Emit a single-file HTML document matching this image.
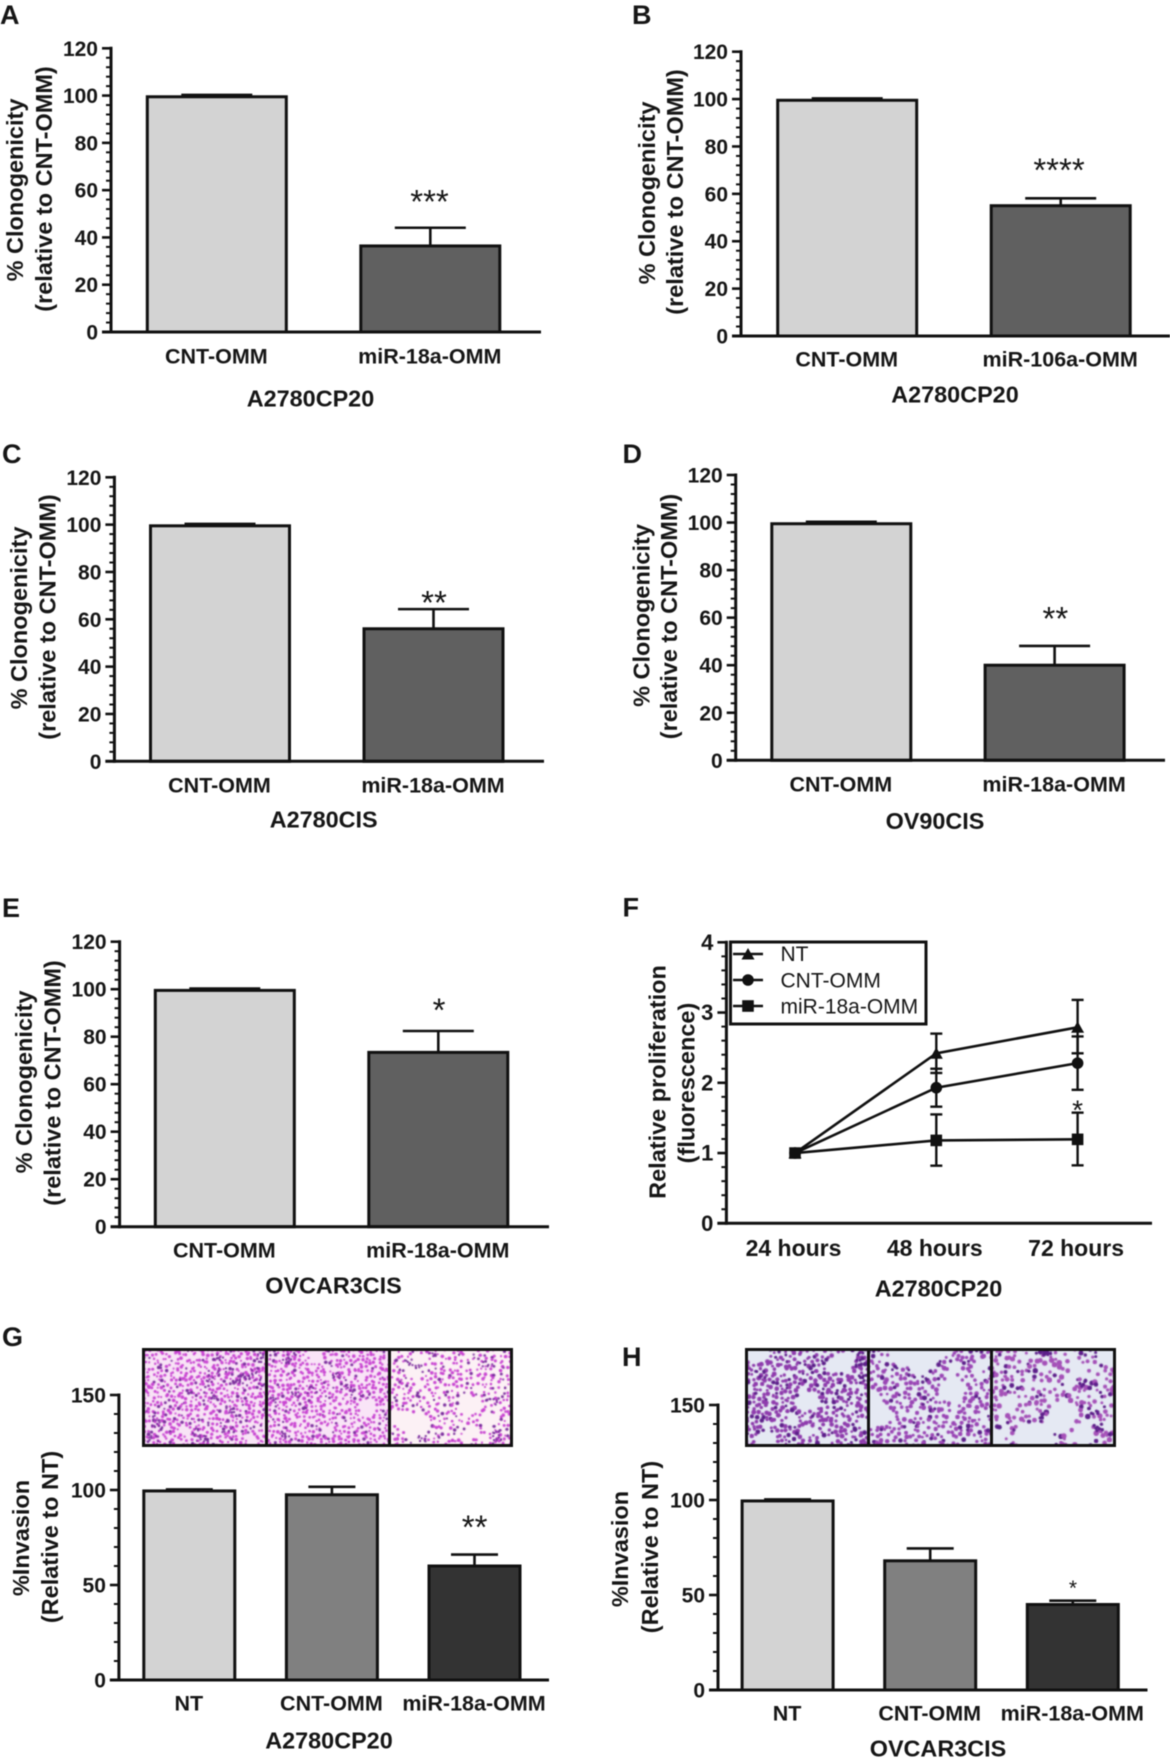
<!DOCTYPE html>
<html lang="en">
<head>
<meta charset="utf-8">
<title>Clonogenicity, proliferation and invasion panels</title>
<style>
html,body{margin:0;padding:0;background:#fff;}
#figure{position:relative;width:1170px;height:1760px;overflow:hidden;background:#fff;filter:blur(0.55px);}
#chart{position:absolute;left:0;top:0;}
#chart text{font-family:"Liberation Sans",Arial,sans-serif;fill:#161616;}
.micro{position:absolute;display:block;}
.frame{position:absolute;border:3px solid #111;box-sizing:border-box;}
.divider{position:absolute;background:#111;width:3px;}
</style>
</head>
<body>
<div id="figure">
<svg id="chart" width="1170" height="1760" viewBox="0 0 1170 1760" xmlns="http://www.w3.org/2000/svg"></svg>
</div>
<script>
// ---- chart data ----
const tickLabels120 = [0, 20, 40, 60, 80, 100, 120];
const tickLabels150 = [0, 50, 100, 150];
const tickLabelsF = [0, 1, 2, 3, 4];

const categoriesA = ['CNT-OMM', 'miR-18a-OMM'];
const valuesA = [99.5, 36.4];
const errorsA = [100.3, 44.1];

const categoriesB = ['CNT-OMM', 'miR-106a-OMM'];
const valuesB = [99.5, 55];
const errorsB = [100.3, 58.1];

const categoriesC = ['CNT-OMM', 'miR-18a-OMM'];
const valuesC = [99.5, 56];
const errorsC = [100.3, 64.3];

const categoriesD = ['CNT-OMM', 'miR-18a-OMM'];
const valuesD = [99.5, 40];
const errorsD = [100.3, 48.1];

const categoriesE = ['CNT-OMM', 'miR-18a-OMM'];
const valuesE = [99.5, 73.4];
const errorsE = [100.3, 82.4];

const categoriesG = ['NT', 'CNT-OMM', 'miR-18a-OMM'];
const valuesG = [99.5, 97.5, 60];
const errorsG = [100.3, 101.7, 66];

const categoriesH = ['NT', 'CNT-OMM', 'miR-18a-OMM'];
const valuesH = [99.5, 68, 45];
const errorsH = [100.3, 74.5, 47];

const categoriesF = ['24 hours', '48 hours', '72 hours'];
const seriesNT = [1, 2.42, 2.79];
const errLowNT = [1, 2.14, 2.42];
const errHighNT = [1, 2.70, 3.18];
const seriesCNT = [1, 1.93, 2.28];
const errLowCNT = [1, 1.66, 1.90];
const errHighCNT = [1, 2.20, 2.66];
const seriesMiR = [1, 1.18, 1.195];
const errLowMiR = [1, 0.82, 0.825];
const errHighMiR = [1, 1.55, 1.575];

// ---- helpers ----
const SVGNS = 'http://www.w3.org/2000/svg';
const svg = document.getElementById('chart');
const fig = document.getElementById('figure');
const INK = '#111';

function mk(tag, attrs, parent) {
  const el = document.createElementNS(SVGNS, tag);
  for (const k in attrs) el.setAttribute(k, attrs[k]);
  (parent || svg).appendChild(el);
  return el;
}
function txt(str, x, y, size, anchor, weight, parent, rot) {
  const el = mk('text', {x: x, y: y, 'font-size': size, 'text-anchor': anchor, 'font-weight': weight}, parent);
  if (rot) el.setAttribute('transform', 'rotate(-90 ' + x + ' ' + y + ')');
  el.textContent = str;
  return el;
}
function line(x1, y1, x2, y2, w, parent) {
  return mk('line', {x1: x1, y1: y1, x2: x2, y2: y2, stroke: INK, 'stroke-width': w}, parent);
}
function drawYAxis(g, p, ticks, minorPerMajor) {
  const yOf = v => p.y0 - v * (p.y0 - p.yTop) / p.yMax;
  const axis = line(p.axisX, yOf(p.yMax) - 1.5, p.axisX, p.y0 + 1.5, 3, g);
  
  
  ticks.forEach((t, i) => {
    const tick = line(p.axisX - 9, yOf(t), p.axisX, yOf(t), 2.6, g);
    
    
    const label = txt(String(t), p.axisX - 13, yOf(t) + 7.5, p.tickSize, 'end', 'bold', g);
    
    
    if (i < ticks.length - 1) {
      const step = (ticks[i + 1] - t) / minorPerMajor;
      for (let m = 1; m < minorPerMajor; m++) {
        const minor = line(p.axisX - 5, yOf(t + m * step), p.axisX, yOf(t + m * step), 2, g);
        
        
      }
    }
  });
  return yOf;
}
function drawCommonLabels(g, p) {
  const letter = txt(p.letter, p.letterX, p.letterY, 27, 'start', 'bold', g);
  
  
  p.titles.forEach(t => {
    const title = txt(t.text, t.x, t.y, p.titleSize || 23.5, 'middle', 'bold', g, true);
    
    
  });
  const group = txt(p.group, p.groupX, p.groupY, 23.4, 'middle', 'bold', g);
  
  
}
function drawStars(g, s) {
  const size = s.size || 33;
  const star = txt(s.text, s.x, s.y + 0.49 * size, size, 'middle', 'normal', g);
  
  
}
function drawBarPanel(p, cats, vals, errs, ticks) {
  const g = mk('g', {});
  
  
  drawCommonLabels(g, p);
  const yOf = v => p.y0 - v * (p.y0 - p.yTop) / p.yMax;
  const xOf = i => p.xFirst + i * p.xStep;
  cats.forEach((c, i) => {
    const stem = line(xOf(i), yOf(errs[i]), xOf(i), yOf(vals[i]), 2.6, g);
    
    
    const cap = line(xOf(i) - p.capW / 2, yOf(errs[i]), xOf(i) + p.capW / 2, yOf(errs[i]), 2.6, g);
    
    
    const bar = mk('rect', {x: xOf(i) - p.barW / 2, y: yOf(vals[i]), width: p.barW, height: p.y0 - yOf(vals[i]), fill: p.fills[i], stroke: INK, 'stroke-width': 3}, g);
    
    
    const label = txt(c, xOf(i) - 0.5, p.catY, 21.5, 'middle', 'bold', g);
    
    
  });
  const xAxis = line(p.axisX - 9, p.y0, p.axisEnd, p.y0, 3, g);
  
  
  drawYAxis(g, p, ticks, 5);
  drawStars(g, p.star);
}

// ---- panels A-E, G, H ----
const twoFills = ['#d3d3d3', '#606060'];
const threeFills = ['#d3d3d3', '#808080', '#333333'];
const clono = '% Clonogenicity';
const relCnt = '(relative to CNT-OMM)';

drawBarPanel({letter:'A',letterX:0,letterY:24,axisX:111,y0:332,yTop:48.3,yMax:120,xFirst:216.8,xStep:213.5,barW:139,capW:71,axisEnd:541,catY:363.3,group:'A2780CP20',groupX:310.5,groupY:406.7,tickSize:21,fills:twoFills,
  titles:[{text:clono,x:23,y:190},{text:relCnt,x:52,y:189}],star:{text:'***',x:429.5,y:196.7}}, categoriesA, valuesA, errorsA, tickLabels120);
drawBarPanel({letter:'B',letterX:632,letterY:24,axisX:741,y0:336,yTop:51.7,yMax:120,xFirst:847.2,xStep:213.5,barW:139,capW:71,axisEnd:1170,catY:366.7,group:'A2780CP20',groupX:955,groupY:402.7,tickSize:21,fills:twoFills,
  titles:[{text:clono,x:655,y:193},{text:relCnt,x:683,y:192}],star:{text:'****',x:1059,y:165.3}}, categoriesB, valuesB, errorsB, tickLabels120);
drawBarPanel({letter:'C',letterX:2,letterY:463,axisX:114.4,y0:761.3,yTop:477.3,yMax:120,xFirst:220,xStep:213.5,barW:139,capW:71,axisEnd:544,catY:792.7,group:'A2780CIS',groupX:323.7,groupY:827.7,tickSize:21,fills:twoFills,
  titles:[{text:clono,x:27,y:618},{text:relCnt,x:55.5,y:617}],star:{text:'**',x:434,y:597.7}}, categoriesC, valuesC, errorsC, tickLabels120);
drawBarPanel({letter:'D',letterX:622.5,letterY:463,axisX:735.7,y0:760.3,yTop:475,yMax:120,xFirst:841.3,xStep:213.3,barW:139,capW:71,axisEnd:1165,catY:791.3,group:'OV90CIS',groupX:935,groupY:829,tickSize:21,fills:twoFills,
  titles:[{text:clono,x:649.5,y:615.5},{text:relCnt,x:677,y:616.5}],star:{text:'**',x:1055.4,y:614}}, categoriesD, valuesD, errorsD, tickLabels120);
drawBarPanel({letter:'E',letterX:2,letterY:917,axisX:119.6,y0:1226.7,yTop:941.7,yMax:120,xFirst:224.8,xStep:213.5,barW:139,capW:71,axisEnd:549,catY:1257.3,group:'OVCAR3CIS',groupX:333.5,groupY:1293.3,tickSize:21,fills:twoFills,
  titles:[{text:clono,x:32,y:1082},{text:relCnt,x:60.7,y:1083}],star:{text:'*',x:439,y:1005.3}}, categoriesE, valuesE, errorsE, tickLabels120);
drawBarPanel({letter:'G',letterX:2,letterY:1346,axisX:118.9,y0:1680,yTop:1395,yMax:150,xFirst:189.3,xStep:142.6,barW:91,capW:47,axisEnd:549,catY:1710.7,group:'A2780CP20',groupX:329,groupY:1748.3,tickSize:21,fills:threeFills,
  titles:[{text:'%Invasion',x:29,y:1538},{text:'(Relative to NT)',x:58,y:1537}],star:{text:'**',x:474.6,y:1522.3}}, categoriesG, valuesG, errorsG, tickLabels150);
drawBarPanel({letter:'H',letterX:622,letterY:1366,axisX:718,y0:1690,yTop:1405,yMax:150,xFirst:787.6,xStep:142.6,barW:91,capW:47,axisEnd:1147.5,catY:1720.7,group:'OVCAR3CIS',groupX:938,groupY:1756.7,tickSize:21,fills:threeFills,
  titles:[{text:'%Invasion',x:628,y:1549},{text:'(Relative to NT)',x:658,y:1547}],star:{text:'*',x:1073,y:1584.7,size:21}}, categoriesH, valuesH, errorsH, tickLabels150);

// ---- panel F line chart ----
(function () {
  const p = {letter:'F',letterX:622.5,letterY:916.7,axisX:726.4,y0:1223.3,yTop:942.3,yMax:4,xFirst:795,xStep:141.3,axisEnd:1152,catY:1256,group:'A2780CP20',groupX:938.5,groupY:1296.7,tickSize:22,titleSize:23.5,
    titles:[{text:'Relative proliferation',x:665.6,y:1082},{text:'(fluorescence)',x:694.5,y:1083}]};
  const g = mk('g', {});
  
  
  drawCommonLabels(g, p);
  const yOf = drawYAxis(g, p, tickLabelsF, 5);
  const xOf = i => p.xFirst + i * p.xStep;
  const xAxis = line(p.axisX - 9, p.y0, p.axisEnd, p.y0, 3, g);
  
  
  categoriesF.forEach((c, i) => {
    const label = txt(c, xOf(i) - 1.5, p.catY, 23, 'middle', 'bold', g);
    
    
  });
  function marker(kind, x, y, parent) {
    if (kind === 'triangle') return mk('polygon', {points: (x - 6.5) + ',' + (y + 5.5) + ' ' + (x + 6.5) + ',' + (y + 5.5) + ' ' + x + ',' + (y - 6), fill: INK}, parent);
    if (kind === 'circle') return mk('circle', {cx: x, cy: y, r: 5.8, fill: INK}, parent);
    return mk('rect', {x: x - 5.8, y: y - 5.8, width: 11.6, height: 11.6, fill: INK}, parent);
  }
  function drawSeries(name, kind, vals, lows, highs) {
    const sg = mk('g', {}, g);
    
    
    const path = mk('polyline', {points: vals.map((v, i) => xOf(i) + ',' + yOf(v)).join(' '), fill: 'none', stroke: INK, 'stroke-width': 2.6}, sg);
    
    
    vals.forEach((v, i) => {
      if (highs[i] !== lows[i]) {
        const stem = line(xOf(i), yOf(highs[i]), xOf(i), yOf(lows[i]), 2.4, sg);
        
        
        [highs[i], lows[i]].forEach(e => {
          const cap = line(xOf(i) - 6, yOf(e), xOf(i) + 6, yOf(e), 2.4, sg);
          
          
        });
      }
      const pt = marker(kind, xOf(i), yOf(v), sg);
      
      
    });
  }
  drawSeries('nt', 'triangle', seriesNT, errLowNT, errHighNT);
  drawSeries('cnt-omm', 'circle', seriesCNT, errLowCNT, errHighCNT);
  drawSeries('mir-18a-omm', 'square', seriesMiR, errLowMiR, errHighMiR);
  drawStars(g, {text:'*', x:1077.6, y:1106, size:28});

  const lg = mk('g', {}, g);
  
  
  const box = mk('rect', {x:730.5, y:942, width:195.5, height:82, fill:'#fff', stroke:INK, 'stroke-width':3}, lg);
  
  
  [['NT','triangle',954,961],['CNT-OMM','circle',980,987.3],['miR-18a-OMM','square',1006,1013.3]].forEach(e => {
    const ll = line(733, e[2], 763, e[2], 2.6, lg);
    
    
    const mm = marker(e[1], 748, e[2], lg);
    
    
    const tt = txt(e[0], 780.5, e[3], 21, 'start', 'normal', lg);
    
    
  });
})();

// ---- micrograph strips (decorative stained-cell texture, deterministic) ----
function lcg(seed) {
  let s = seed >>> 0;
  return function () { s = (Math.imul(s, 1664525) + 1013904223) >>> 0; return s / 4294967296; };
}
function drawMicro(c, w, h, o, seed) {
  c.width = w; c.height = h;
  const ctx = c.getContext('2d');
  const rnd = lcg(seed);
  for (let i = 0; i < 10; i++) rnd();
  ctx.fillStyle = o.bg;
  ctx.fillRect(0, 0, w, h);
  const voids = [];
  for (let i = 0; i < o.voids; i++) voids.push([rnd() * w, rnd() * h, o.voidR * (0.5 + rnd())]);
  for (let yy = 0; yy < h + o.grid; yy += o.grid) {
    for (let xx = 0; xx < w + o.grid; xx += o.grid) {
      const x = xx + (rnd() - 0.5) * o.grid * 0.9;
      const y = yy + (rnd() - 0.5) * o.grid * 0.9;
      if (voids.some(v => Math.hypot(x - v[0], y - v[1]) < v[2])) continue;
      if (rnd() > o.density) continue;
      const dark = rnd() < o.darkShare;
      ctx.fillStyle = dark ? o.dark : o.dot;
      ctx.beginPath();
      ctx.arc(x, y, o.r * (0.7 + rnd() * 0.6), 0, 7);
      ctx.fill();
    }
  }
  for (let i = 0; i < o.clumps; i++) {
    const cx = rnd() * w, cy = rnd() * h;
    ctx.fillStyle = o.dark;
    for (let k = 0; k < 7; k++) {
      ctx.beginPath();
      ctx.arc(cx + (rnd() - 0.5) * 10, cy + (rnd() - 0.5) * 8, o.r * 0.8, 0, 7);
      ctx.fill();
    }
  }
}
function strip(name, left, top, right, bottom, dividers, styles) {
  const edges = [left + 3].concat(dividers).concat([right - 3]);
  styles.forEach((o, i) => {
    const c = document.createElement('canvas');
    c.className = 'micro';
    
    
    const x0 = edges[i], x1 = edges[i + 1];
    c.style.left = x0 + 'px';
    c.style.top = (top + 3) + 'px';
    c.style.width = (x1 - x0) + 'px';
    c.style.height = (bottom - top - 6) + 'px';
    fig.appendChild(c);
    drawMicro(c, x1 - x0, bottom - top - 6, o, 1234 + i * 7717 + left * 31);
  });
  dividers.forEach(d => {
    const v = document.createElement('div');
    v.className = 'divider';
    
    
    v.style.left = (d - 1) + 'px';
    v.style.top = top + 'px';
    v.style.height = (bottom - top) + 'px';
    fig.appendChild(v);
  });
  const f = document.createElement('div');
  f.className = 'frame';
  
  
  f.style.left = left + 'px';
  f.style.top = top + 'px';
  f.style.width = (right - left) + 'px';
  f.style.height = (bottom - top) + 'px';
  fig.appendChild(f);
}
const pinkBase = {bg:'#f8e4f6', dot:'#c946d2', dark:'#7c2f9e', grid:4.2, r:1.45, density:0.96, darkShare:0.18, voids:3, voidR:6, clumps:16};
strip('panel-g', 142, 1348, 513, 1447, [266, 389], [
  pinkBase,
  Object.assign({}, pinkBase, {voids:4, darkShare:0.12, clumps:9, bg:'#f9e4f7'}),
  Object.assign({}, pinkBase, {bg:'#fcf1f5', grid:4.6, density:0.8, darkShare:0.2, voids:6, voidR:10, clumps:8})
]);
const blueBase = {bg:'#e5e9f3', dot:'#8f3cad', dark:'#5d1f8a', grid:4.7, r:1.9, density:0.95, darkShare:0.18, voids:9, voidR:9, clumps:4};
strip('panel-h', 745, 1348, 1116, 1447, [868, 991], [
  blueBase,
  Object.assign({}, blueBase, {density:0.78, voids:11, voidR:10, dot:'#9a46b5', clumps:0}),
  Object.assign({}, blueBase, {grid:5, density:0.72, voids:10, voidR:10, dot:'#a551b8', r:2.1, clumps:5})
]);
</script>
</body>
</html>
